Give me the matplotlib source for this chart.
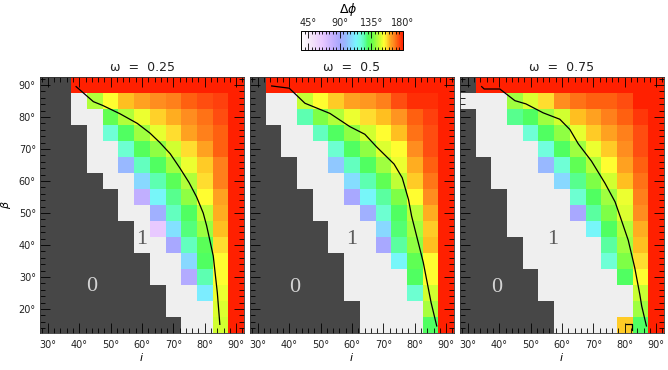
import numpy as np
import matplotlib
matplotlib.use("Agg")
import matplotlib.pyplot as plt
from matplotlib.colors import LinearSegmentedColormap, ListedColormap, Normalize
from matplotlib.ticker import MultipleLocator
from matplotlib.cm import ScalarMappable

# ---------------- data ----------------
# grid axes
incl = [30, 35, 40, 45, 50, 55, 60, 65, 70, 75, 80, 85, 90]          # i (deg)
beta = [90, 85, 80, 75, 70, 65, 60, 55, 50, 45, 40, 35, 30, 25, 20, 15]  # beta (deg), top to bottom

# cell codes: 0 -> region "0", 1 -> region "1", otherwise delta-phi in degrees
dphi_025 = [
    [0, 0, 180, 180, 180, 180, 180, 180, 180, 180, 180, 180, 180],
    [0, 0, 1, 144, 153, 160, 163, 166, 168, 172, 174, 176, 180],
    [0, 0, 1, 1, 134, 144, 151, 158, 161.5, 166, 169.5, 174, 180],
    [0, 0, 0, 1, 120, 130, 142, 150.5, 157, 163, 168, 172, 180],
    [0, 0, 0, 1, 1, 121, 131, 140, 148, 157, 163, 172, 180],
    [0, 0, 0, 1, 1, 98, 123, 130, 142, 151, 158.5, 168, 180],
    [0, 0, 0, 0, 1, 1, 106, 125, 132, 144, 157, 168, 180],
    [0, 0, 0, 0, 0, 1, 81, 114, 127, 140, 153, 163, 180],
    [0, 0, 0, 0, 0, 1, 1, 94, 123, 130, 145.5, 161.5, 180],
    [0, 0, 0, 0, 0, 0, 1, 65, 108.5, 128, 141, 160, 180],
    [0, 0, 0, 0, 0, 0, 1, 1, 90, 123, 132, 157, 180],
    [0, 0, 0, 0, 0, 0, 0, 1, 1, 106, 130, 153, 180],
    [0, 0, 0, 0, 0, 0, 0, 1, 1, 86, 125, 153, 180],
    [0, 0, 0, 0, 0, 0, 0, 0, 1, 1, 111, 151, 180],
    [0, 0, 0, 0, 0, 0, 0, 0, 1, 1, 1, 149, 180],
    [0, 0, 0, 0, 0, 0, 0, 0, 0, 1, 1, 148, 180],
]

dphi_050 = [
    [0, 180, 180, 180, 180, 180, 180, 180, 180, 180, 180, 180, 180],
    [0, 1, 1, 146.5, 153, 158.5, 163, 164.5, 168, 174, 178, 178, 180],
    [0, 1, 1, 125, 138.5, 144, 151, 157, 160, 165, 172, 176, 180],
    [0, 0, 1, 1, 123, 130, 140, 148, 153, 160, 169.5, 174, 180],
    [0, 0, 1, 1, 1, 121, 130, 140, 149, 153, 166, 174, 180],
    [0, 0, 0, 1, 1, 102, 123, 130, 142, 151, 161.5, 172, 180],
    [0, 0, 0, 1, 1, 1, 107, 125, 133, 145.5, 158.5, 169, 180],
    [0, 0, 0, 0, 1, 1, 90, 114, 126, 138.5, 153, 166, 180],
    [0, 0, 0, 0, 1, 1, 1, 94, 121, 130, 145, 161.5, 180],
    [0, 0, 0, 0, 0, 1, 1, 1, 106, 129, 142.5, 158.5, 180],
    [0, 0, 0, 0, 0, 1, 1, 1, 90, 126, 140, 160, 180],
    [0, 0, 0, 0, 0, 0, 1, 1, 1, 114, 133, 153, 180],
    [0, 0, 0, 0, 0, 0, 1, 1, 1, 1, 130, 153, 180],
    [0, 0, 0, 0, 0, 0, 1, 1, 1, 1, 121, 148, 180],
    [0, 0, 0, 0, 0, 0, 0, 1, 1, 1, 1, 143, 180],
    [0, 0, 0, 0, 0, 0, 0, 1, 1, 1, 1, 130, 180],
]

dphi_075 = [
    [0, 180, 180, 180, 180, 180, 180, 180, 180, 180, 180, 180, 180],
    [1, 1, 1, 142, 149, 157, 166, 169.5, 172, 172, 174, 180, 180],
    [0, 1, 1, 127, 130, 142, 148, 160, 163, 168, 172, 177, 180],
    [0, 1, 1, 1, 120, 130, 140, 150.5, 158.5, 163, 168, 174, 180],
    [0, 1, 1, 1, 1, 119, 130, 142, 151, 158.5, 166, 174, 180],
    [0, 0, 1, 1, 1, 98, 120, 133, 144, 153, 163, 172, 180],
    [0, 0, 1, 1, 1, 1, 106, 127, 138.5, 148, 160, 169.5, 180],
    [0, 0, 0, 1, 1, 1, 1, 121, 130, 142, 151, 168, 180],
    [0, 0, 0, 1, 1, 1, 1, 90, 126, 138.5, 149, 166, 180],
    [0, 0, 0, 1, 1, 1, 1, 1, 114, 130, 144, 161.5, 180],
    [0, 0, 0, 0, 1, 1, 1, 1, 1, 126, 142, 160, 180],
    [0, 0, 0, 0, 1, 1, 1, 1, 1, 120, 138.5, 157, 180],
    [0, 0, 0, 0, 0, 1, 1, 1, 1, 1, 130, 153, 180],
    [0, 0, 0, 0, 0, 1, 1, 1, 1, 1, 1, 147, 180],
    [0, 0, 0, 0, 0, 0, 1, 1, 1, 1, 1, 142, 180],
    [0, 0, 0, 0, 0, 0, 1, 1, 1, 1, 158.5, 130, 180],
]

# black curves (i, beta)
curve_i_025 = [39.0, 41.0, 44.5, 47.5, 53.0, 58.5, 62.5, 65.7, 69.0, 72.1, 75.0, 77.4, 79.5, 80.6, 82.7, 84.0, 84.8]
curve_b_025 = [89.5, 87.8, 84.8, 83.6, 81.0, 78.0, 75.0, 72.0, 68.5, 64.0, 59.5, 55.0, 50.0, 46.0, 36.6, 25.1, 15.2]
curve_i_050 = [34.4, 40.0, 45.0, 53.0, 59.3, 64.1, 67.8, 73.4, 76.0, 78.0, 79.0, 82.7, 85.2, 87.0]
curve_b_050 = [89.7, 89.0, 84.3, 81.1, 77.0, 74.6, 70.7, 65.3, 61.0, 54.2, 49.0, 34.6, 22.0, 14.7]
curve_i_075 = [34.4, 35.2, 40.2, 45.0, 48.5, 54.0, 59.3, 62.5, 65.2, 69.4, 73.7, 76.9, 78.5, 81.1, 83.2, 84.8, 85.4, 86.9]
curve_b_075 = [89.5, 88.75, 88.75, 85.1, 84.1, 81.3, 79.3, 76.1, 71.6, 66.2, 59.3, 53.5, 49.0, 41.5, 32.8, 24.5, 20.9, 14.7]
hook_i_075 = [80.3, 82.2, 82.2]
hook_b_075 = [15.3, 15.3, 13.5]

omegas = ["0.25", "0.5", "0.75"]
panels = [dphi_025, dphi_050, dphi_075]
curves = [[(curve_i_025, curve_b_025)],
          [(curve_i_050, curve_b_050)],
          [(curve_i_075, curve_b_075), (hook_i_075, hook_b_075)]]
label0_pos = [(44.1, 26.9), (41.8, 26.8), (39.2, 26.8)]
label1_pos = [(60.0, 41.6), (59.9, 41.6), (57.1, 41.6)]

xticks = [30, 40, 50, 60, 70, 80, 90]
yticks = [20, 30, 40, 50, 60, 70, 80, 90]
cbar_ticks = [45, 90, 135, 180]
cbar_labels = ["45°", "90°", "135°", "180°"]

# ---------------- colour map ----------------
VMIN, VMAX = 35, 180
anchors = [(35, '#FFFFFF'), (50, '#F4E4F8'), (65, '#E8C8FF'), (80, '#C4B0FF'),
           (90, '#A8A8FF'), (98, '#98B8FF'), (106, '#88D8FF'), (113, '#78F4FF'),
           (120, '#70FFD8'), (125, '#5CFFB0'), (130, '#50FF60'), (137, '#70FF48'),
           (142, '#A0FF40'), (148, '#D0FF30'), (153, '#FFFF30'), (157, '#FFE030'),
           (160, '#FFC020'), (163, '#FFA020'), (166, '#FF9020'), (169, '#FF7818'),
           (172, '#FF6010'), (175, '#FF4810'), (180, '#FF2000')]
cmap = LinearSegmentedColormap.from_list(
    'dphi', [((v - VMIN) / (VMAX - VMIN), c) for v, c in anchors])
norm = Normalize(VMIN, VMAX)
region_cmap = ListedColormap(['#474747', '#EFEFEF'])

# ---------------- figure ----------------
W, H = 668, 370
fig = plt.figure(figsize=(W / 100, H / 100), dpi=100)


def fa(x0, y0, w, h):
    return [x0 / W, 1 - (y0 + h) / H, w / W, h / H]


inc = np.array(incl, float)
bet = np.array(beta, float)[::-1]
xe = np.concatenate([inc - 2.5, [inc[-1] + 2.5]])
ye = np.concatenate([bet - 2.5, [bet[-1] + 2.5]])

lefts = [40, 250, 460]
for k in range(3):
    ax = fig.add_axes(fa(lefts[k], 77, 204, 256))
    arr = np.array(panels[k], float)[::-1]
    region = np.ma.masked_where(arr > 1, arr)
    vals = np.ma.masked_where(arr <= 1, arr)
    ax.pcolormesh(xe, ye, region, cmap=region_cmap, vmin=0, vmax=1, shading='flat')
    ax.pcolormesh(xe, ye, vals, cmap=cmap, norm=norm, shading='flat')
    for ci, cb in curves[k]:
        ax.plot(ci, cb, color='black', lw=0.9)
    ax.text(*label0_pos[k], "0", fontsize=16, family='Liberation Serif',
            color='#D4D4D4', ha='center', va='center')
    ax.text(*label1_pos[k], "1", fontsize=16, family='Liberation Serif',
            color='#5A5A5A', ha='center', va='center')
    ax.set_xlim(27.5, 92.5)
    ax.set_ylim(12.5, 92.5)
    ax.set_xticks(xticks)
    ax.set_xticklabels([f"{t}°" for t in xticks])
    ax.set_yticks(yticks)
    if k == 0:
        ax.set_yticklabels([f"{t}°" for t in yticks])
        ax.set_ylabel(r"$\beta$", fontsize=8, labelpad=4)
    else:
        ax.set_yticklabels([])
    ax.xaxis.set_minor_locator(MultipleLocator(2))
    ax.yaxis.set_minor_locator(MultipleLocator(2))
    ax.tick_params(which='both', direction='in', top=True, right=True,
                   color='black', width=0.6, labelsize=7, labelcolor='#222222')
    ax.tick_params(which='major', length=7)
    ax.tick_params(which='minor', length=3.8)
    ax.tick_params(axis='x', pad=5)
    ax.tick_params(axis='y', pad=3)
    ax.set_xlabel(r"$i$", fontsize=8, labelpad=1)
    ax.set_title(f"ω  =  {omegas[k]}", fontsize=9, pad=4, color='#222222')
    for s in ax.spines.values():
        s.set_linewidth(0.6)
        s.set_color('#333333')

# colour bar
cax = fig.add_axes(fa(301, 31, 102, 19))
sm = ScalarMappable(norm=norm, cmap=cmap)
cb = fig.colorbar(sm, cax=cax, orientation='horizontal')
cb.set_ticks(cbar_ticks)
cb.set_ticklabels(cbar_labels)
cax.xaxis.set_minor_locator(MultipleLocator(5))
cax.xaxis.set_ticks_position('both')
cax.tick_params(which='both', direction='in', labeltop=True, labelbottom=False,
                width=0.6, labelsize=7, pad=2, labelcolor='#222222')
cax.tick_params(which='major', length=5)
cax.tick_params(which='minor', length=2.5)
cb.outline.set_linewidth(0.7)
fig.text(348 / W, 1 - 10 / H, r"$\Delta\phi$", fontsize=9, ha='center', va='center')

fig.savefig("out.png", dpi=100)
